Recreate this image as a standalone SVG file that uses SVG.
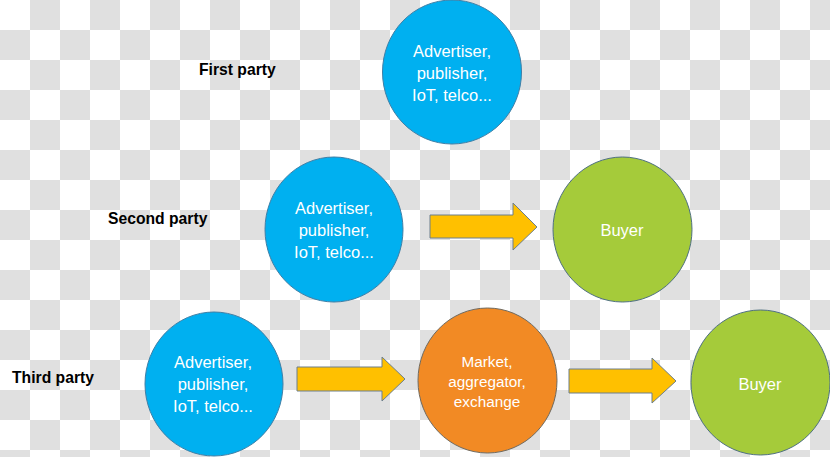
<svg xmlns="http://www.w3.org/2000/svg" width="830" height="457" viewBox="0 0 830 457">
<defs>
<pattern id="checker" x="0" y="0" width="60" height="60" patternUnits="userSpaceOnUse">
<rect x="0" y="0" width="60" height="60" fill="#ffffff"/>
<rect x="30" y="0" width="30" height="30" fill="#e0e0e0"/>
<rect x="0" y="30" width="30" height="30" fill="#e0e0e0"/>
</pattern>
<style>
.blue{fill:#00b0f0;stroke:#3f7fa6;stroke-width:1}
.green{fill:#a5cb3a;stroke:#4f7080;stroke-width:1}
.orange{fill:#f28a24;stroke:#6f6a60;stroke-width:1}
.arrow{fill:#ffc000;stroke:#6d7f8c;stroke-width:1}
.lbl{font-family:"Liberation Sans",Arial,sans-serif;font-weight:bold;font-size:15.7px;fill:#000}
.ct{font-family:"Liberation Sans",Arial,sans-serif;font-size:16.5px;fill:#ffffff;text-anchor:middle}
.ot{font-family:"Liberation Sans",Arial,sans-serif;font-size:15.3px;fill:#ffffff;text-anchor:middle}
</style>
</defs>
<rect x="0" y="0" width="830" height="457" fill="url(#checker)"/>

<g id="label-first"><text class="lbl" x="199" y="75">First party</text></g>
<g id="label-second"><text class="lbl" x="108" y="224">Second party</text></g>
<g id="label-third"><text class="lbl" x="12" y="383">Third party</text></g>

<g id="connectors">
<polygon class="arrow" points="430,215 513,215 513,203 537,227 513,250 513,238 430,238"/>
<polygon class="arrow" points="297,367 382,367 382,357 405,379 382,401 382,391 297,391"/>
<polygon class="arrow" points="569,369 652,369 652,358 676,381 652,403 652,393 569,393"/>
</g>

<g id="node-first-source">
<ellipse class="blue" cx="452" cy="72" rx="69.5" ry="72"/>
<text class="ct" x="452" y="57">Advertiser,</text>
<text class="ct" x="452" y="79">publisher,</text>
<text class="ct" x="452" y="101">IoT, telco...</text>
</g>

<g id="node-second-source">
<ellipse class="blue" cx="334" cy="229.5" rx="69" ry="72.5"/>
<text class="ct" x="334" y="214">Advertiser,</text>
<text class="ct" x="334" y="236">publisher,</text>
<text class="ct" x="334" y="258">IoT, telco...</text>
</g>

<g id="node-second-buyer">
<ellipse class="green" cx="622.5" cy="229.5" rx="69.5" ry="72.5"/>
<text class="ct" x="622" y="236">Buyer</text>
</g>

<g id="node-third-source">
<ellipse class="blue" cx="214" cy="384" rx="69" ry="72"/>
<text class="ct" x="213" y="368">Advertiser,</text>
<text class="ct" x="213" y="390">publisher,</text>
<text class="ct" x="213" y="412">IoT, telco...</text>
</g>

<g id="node-third-market">
<ellipse class="orange" cx="487.5" cy="380.5" rx="69.5" ry="72.5"/>
<text class="ot" x="487" y="367">Market,</text>
<text class="ot" x="487" y="387">aggregator,</text>
<text class="ot" x="487" y="407">exchange</text>
</g>

<g id="node-third-buyer">
<ellipse class="green" cx="760.5" cy="382.5" rx="69.5" ry="72.5"/>
<text class="ct" x="760" y="390">Buyer</text>
</g>
</svg>
